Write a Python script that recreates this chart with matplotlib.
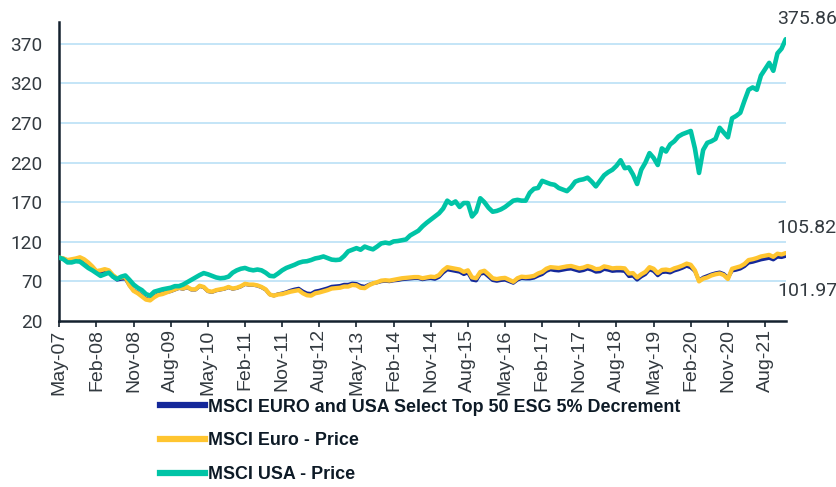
import matplotlib
matplotlib.use("Agg")
import matplotlib.pyplot as plt
from matplotlib.lines import Line2D
import numpy as np

# ---- data (monthly, end Apr-07 .. end Dec-21, rebased to 100) ----
usa = [100, 98, 94, 94, 95.5, 95, 91, 87, 84, 80.5, 77, 79, 81, 76, 73, 76, 77.5, 72, 66, 62,
       59, 54, 52, 57, 58.5, 60, 61, 62, 64, 64, 66, 69, 72, 75, 78, 80.5, 79, 77, 75, 74,
       74.5, 76, 81, 84, 86, 87, 85, 84, 85, 84, 81, 77, 76.5, 80, 84, 87, 89, 91, 93.5, 95,
       95.5, 97, 99, 100, 101.5, 99.5, 97.5, 97, 97.5, 102, 108, 110, 112, 110, 114, 112, 110.5, 114, 118, 119,
       118, 120.5, 121, 122, 123, 128, 131, 134, 139.5, 144, 148, 152, 156, 162, 172, 168, 171, 164, 169, 169,
       152, 158, 175, 170, 163, 158, 159, 161, 164, 168, 172, 173, 172, 172, 182, 187, 188, 197, 195, 193,
       192, 188, 186, 184, 189, 196, 198, 199, 201, 196, 190, 197, 204, 208, 211, 216, 223, 213, 214, 205,
       193, 211, 220, 232, 226, 217, 238, 234, 243, 247, 253, 256, 258, 260, 238, 207, 236, 245, 247, 250,
       264, 258, 252, 276, 279, 283, 298, 312, 315, 312, 330, 338, 346, 336, 358, 364, 375.86]

euro = [100, 99, 97, 98, 99, 100.5, 98, 94, 89, 83, 84, 85.5, 84, 78, 74, 75, 75.5, 65, 58, 55,
        51, 47, 46, 50, 53, 54, 56, 58, 60, 62, 61, 63, 60, 60, 64.5, 63, 58, 57, 59, 60,
        61, 63, 61, 62, 64, 67, 66, 66, 65, 63, 60, 53.5, 52, 53.5, 54, 55.5, 57, 58, 59, 55,
        52.5, 52, 55, 56, 57.5, 59, 61, 61.5, 62, 63.5, 63.5, 65.5, 65, 62, 61.5, 65, 67.5, 69, 71, 71.5,
        71, 72, 73, 74, 74.5, 75, 75.5, 75.5, 74, 75, 76, 75.5, 78, 84, 88, 87, 86, 85, 82, 84,
        75, 74, 82, 83.5, 79, 74, 73, 74, 74.5, 72, 69.5, 74, 76, 75.5, 76, 77, 80, 82, 86, 88,
        87.5, 87, 88, 89, 89.5, 88, 86.5, 87.5, 89.5, 88, 85.5, 86, 89, 88, 86.5, 87, 87, 86.5, 80, 80.5,
        75, 79, 82, 88, 86, 80.5, 84.5, 85, 84, 86.5, 88, 90, 92.5, 91, 84, 70, 73.5, 75, 77.5, 79,
        80, 78, 73, 86, 87.5, 89, 92, 97, 98, 99.5, 101.5, 102.5, 103.5, 101, 105, 104, 105.82]

esg = [100, 99, 96.5, 97, 98, 99.5, 97, 92.5, 87, 81, 82, 83.5, 82, 76, 72, 73, 73.5, 65, 58.5, 56,
       52, 48, 47, 51, 54, 55, 56.5, 57.5, 59.5, 61.5, 60.5, 62.5, 59.5, 59.5, 64, 62.5, 57.5, 56.5, 58.5, 59.5,
       60.5, 62.5, 60.5, 61.5, 63.5, 66.5, 65.5, 65.5, 64.5, 62.5, 59.5, 53.5, 52, 54, 55, 56.5, 58.5, 60, 61, 57.5,
       55, 54.5, 57.5, 58.5, 60, 61.5, 63.5, 64, 64.5, 66, 66, 67.5, 67, 64.5, 63.5, 66, 67.5, 68.5, 70, 70.5,
       70, 71, 71.5, 72.5, 73, 73.5, 74, 74, 72.5, 73.5, 74, 73, 75.5, 81, 85, 84, 83, 82, 79, 81,
       72, 71, 79.5, 80.5, 76, 71.5, 70.5, 71.5, 72, 70, 68, 72, 74, 73.5, 73.5, 74.5, 77, 79, 83, 85,
       84, 83.5, 84.5, 85.5, 86, 84.5, 83, 84, 86, 84.5, 82, 82.5, 85.5, 84.5, 83, 83.5, 83.5, 83, 76.5, 77,
       72, 76, 79, 85, 83, 77.5, 81.5, 82, 81, 83.5, 85, 87, 89.5, 87.5, 83, 71, 75, 77, 79, 80.5,
       81.5, 79.5, 74.5, 83.5, 84.5, 86, 89, 93.5, 94.5, 96, 97.5, 98.5, 99.5, 97.5, 101, 100.5, 101.97]

tick_labels = ["May-07", "Feb-08", "Nov-08", "Aug-09", "May-10", "Feb-11", "Nov-11",
               "Aug-12", "May-13", "Feb-14", "Nov-14", "Aug-15", "May-16", "Feb-17",
               "Nov-17", "Aug-18", "May-19", "Feb-20", "Nov-20", "Aug-21"]
y_ticks = [20, 70, 120, 170, 220, 270, 320, 370]
series_names = ["MSCI EURO and USA Select Top 50 ESG 5% Decrement",
                "MSCI Euro - Price", "MSCI USA - Price"]

# ---- styling ----
C_ESG = "#14289a"
C_EURO = "#ffc530"
C_USA = "#00c4a6"
C_GRID = "#c4e5f7"
C_AXIS = "#14212e"
C_TXT = "#333a40"

W, H = 837, 487
fig = plt.figure(figsize=(W / 100, H / 100), dpi=100)
ax = fig.add_axes([59.3 / W, 1 - 321 / H, (785.7 - 59.3) / W, (321 - 21.7) / H])

x = np.arange(len(usa))
ax.plot(x, esg, color=C_ESG, lw=2.6, solid_capstyle="round", zorder=3)
ax.plot(x, euro, color=C_EURO, lw=3.1, solid_capstyle="round", zorder=4)
ax.plot(x, usa, color=C_USA, lw=3.3, solid_capstyle="round", zorder=5)

ax.set_xlim(0, len(usa) - 1)
ax.set_ylim(20, 398)
ax.set_yticks(y_ticks)
ax.set_yticklabels([str(v) for v in y_ticks], fontfamily="Roboto", fontsize=13.7, color=C_TXT)
for v in y_ticks[1:]:
    ax.axhline(v, color=C_GRID, lw=1.4, zorder=1)

ax.set_xticks(np.arange(0, len(usa), 9)[:len(tick_labels)])
ax.set_xticklabels(tick_labels, rotation=90, fontfamily="Liberation Sans", fontsize=14,
                   color=C_TXT)
ax.tick_params(axis="y", length=0, pad=12)
ax.tick_params(axis="x", length=4, width=1.2, color=C_AXIS, direction="out", pad=2)

for s in ["top", "right"]:
    ax.spines[s].set_visible(False)
for s in ["left", "bottom"]:
    ax.spines[s].set_color(C_AXIS)
    ax.spines[s].set_linewidth(1.8)

# end value labels
fig.text(807 / W, 1 - 18.5 / H, f"{usa[-1]:.2f}", ha="center", va="center",
         fontfamily="Roboto", fontsize=14, color=C_TXT)
fig.text(806 / W, 1 - 228 / H, f"{euro[-1]:.2f}", ha="center", va="center",
         fontfamily="Roboto", fontsize=14, color=C_TXT)
fig.text(807 / W, 1 - 290.5 / H, f"{esg[-1]:.2f}", ha="center", va="center",
         fontfamily="Roboto", fontsize=14, color=C_TXT)

# legend
handles = [Line2D([], [], color=c, lw=4.5) for c in (C_ESG, C_EURO, C_USA)]
leg = fig.legend(handles, series_names, loc="upper left",
                 bbox_to_anchor=(160 / W, 1 - 398.5 / H), frameon=False,
                 borderpad=0, borderaxespad=0, handlelength=2.5, handletextpad=0.17,
                 labelspacing=0.94,
                 prop={"family": "Liberation Sans", "weight": "bold", "size": 12.9})
for t in leg.get_texts():
    t.set_color("#0d1a26")

fig.savefig("out.png", dpi=100)
